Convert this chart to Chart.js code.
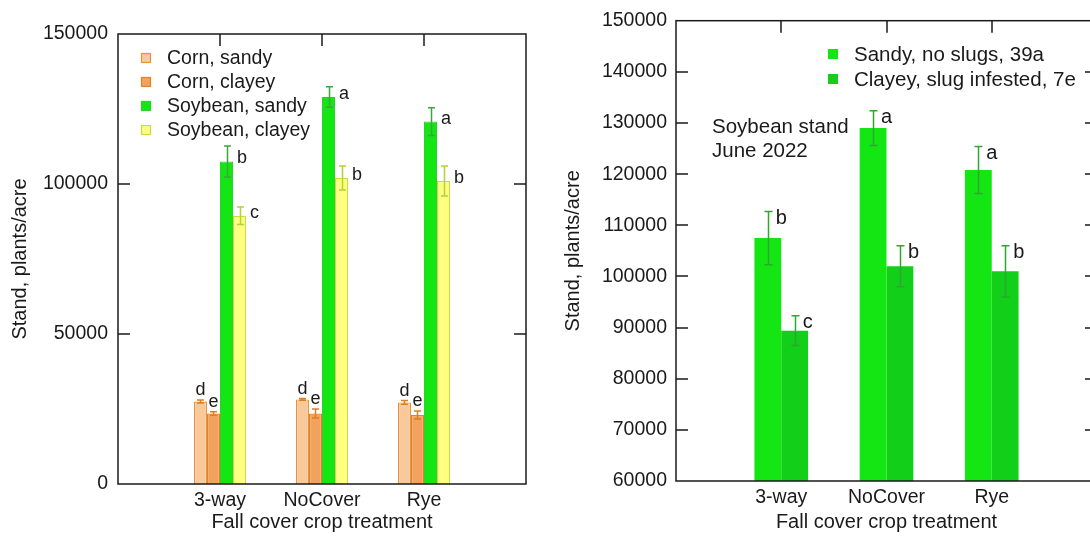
<!DOCTYPE html>
<html>
<head>
<meta charset="utf-8">
<title>Stand by fall cover crop treatment</title>
<script src="https://cdn.jsdelivr.net/npm/chart.js@4.4.1/dist/chart.umd.min.js"></script>
<style>
  html, body { margin: 0; padding: 0; background: #fff; overflow: hidden; }
  #wrap { position: relative; width: 1090px; height: 538px; overflow: hidden; }
  #leftChart { position: absolute; left: 0; top: 0; }
  #rightChart { position: absolute; left: 545px; top: 0; }
</style>
</head>
<body>
<div id="wrap">
  <canvas id="leftChart" width="545" height="538"></canvas>
  <canvas id="rightChart" width="560" height="538"></canvas>
</div>
<script>
// ===== DATA =====
const categories = ['3-way', 'NoCover', 'Rye'];

const cornSandy = [27500, 28200, 27200];
const cornSandyErr = [500, 300, 600];
const cornSandyLetters = ['d', 'd', 'd'];

const cornClayey = [23500, 23500, 23000];
const cornClayeyErr = [600, 1500, 1300];
const cornClayeyLetters = ['e', 'e', 'e'];

const soySandy = [107500, 129000, 120800];
const soySandyErr = [5200, 3400, 4600];
const soySandyLetters = ['b', 'a', 'a'];

const soyClayey = [89400, 102000, 101000];
const soyClayeyErr = [2900, 4000, 5000];
const soyClayeyLetters = ['c', 'b', 'b'];

// axis ranges
const leftRange = [0, 150000];
const leftStep = 50000;
const rightRange = [60000, 150000];
const rightStep = 10000;

const FONT = '"Liberation Sans", Arial, Helvetica, sans-serif';
const INK = '#1a1a1a';

// groups sit at positions 1,2,3 of a 0..4 category axis
function padLabels(list) { return [''].concat(list, ['']); }
function padData(list) { return [null].concat(list, [null]); }

// ===== PLUGINS =====
const frameTicks = {
    id: 'frameTicks',
    afterDraw(chart) {
        const { ctx, chartArea: a, scales } = chart;
        const tickLen = 12;
        ctx.save();
        ctx.strokeStyle = INK;
        ctx.lineWidth = 1.5;
        ctx.strokeRect(a.left, a.top, a.right - a.left, a.bottom - a.top);
        ctx.beginPath();
        scales.y.ticks.forEach(t => {
            if (t.value === scales.y.min || t.value === scales.y.max) return;
            const y = Math.round(scales.y.getPixelForValue(t.value));
            ctx.moveTo(a.left, y); ctx.lineTo(a.left + tickLen, y);
            ctx.moveTo(a.right, y); ctx.lineTo(a.right - tickLen, y);
        });
        chart.data.labels.forEach((lab, i) => {
            if (!lab) return;
            const x = Math.round(scales.x.getPixelForValue(i));
            ctx.moveTo(x, a.top); ctx.lineTo(x, a.top + tickLen);
        });
        ctx.stroke();
        ctx.restore();
    }
};

const errorBars = {
    id: 'errorBars',
    afterDatasetsDraw(chart, args, opts) {
        const { ctx, scales: { y } } = chart;
        ctx.save();
        chart.data.datasets.forEach((ds, di) => {
            const meta = chart.getDatasetMeta(di);
            meta.data.forEach((bar, i) => {
                const v = ds.data[i];
                if (v == null) return;
                const e = ds.errors[i];
                const x = Math.round(bar.x) + 0.5;
                const yTop = y.getPixelForValue(v + e);
                const yBot = y.getPixelForValue(v - e);
                ctx.strokeStyle = ds.errColor;
                ctx.lineWidth = 1.5;
                ctx.beginPath();
                ctx.moveTo(x, yTop); ctx.lineTo(x, yBot);
                ctx.moveTo(x - opts.cap, yTop); ctx.lineTo(x + opts.cap, yTop);
                ctx.moveTo(x - opts.cap, yBot); ctx.lineTo(x + opts.cap, yBot);
                ctx.stroke();

                // significance letter
                const letter = ds.letters[i];
                ctx.fillStyle = INK;
                ctx.font = opts.letterSize + 'px ' + FONT;
                if (ds.letterMode === 'above') {
                    ctx.textAlign = 'center';
                    ctx.textBaseline = 'alphabetic';
                    ctx.fillText(letter, bar.x, yTop - 5);
                } else if (ds.letterMode === 'right') {
                    ctx.textAlign = 'left';
                    ctx.textBaseline = 'middle';
                    ctx.fillText(letter, bar.x + bar.width / 2 + 4, bar.y - 3);
                } else {
                    ctx.textAlign = 'left';
                    ctx.textBaseline = 'middle';
                    ctx.fillText(letter, bar.x + 8, yTop + 7);
                }
            });
        });
        ctx.restore();
    }
};

const boxLegend = {
    id: 'boxLegend',
    afterDraw(chart, args, opts) {
        const { ctx } = chart;
        ctx.save();
        ctx.font = opts.size + 'px ' + FONT;
        ctx.textAlign = 'left';
        ctx.textBaseline = 'middle';
        chart.data.datasets.forEach((ds, i) => {
            const cy = opts.y + i * opts.step;
            ctx.fillStyle = ds.backgroundColor;
            ctx.fillRect(opts.x, cy - opts.box / 2, opts.box, opts.box);
            if (ds.borderWidth) {
                ctx.strokeStyle = ds.borderColor;
                ctx.lineWidth = 1.2;
                ctx.strokeRect(opts.x + 0.5, cy - opts.box / 2 + 0.5, opts.box - 1, opts.box - 1);
            }
            ctx.fillStyle = INK;
            ctx.fillText(ds.label, opts.textX, cy + 1);
        });
        (opts.note || []).forEach((line, i) => {
            ctx.fillText(line, opts.noteX, opts.noteY + i * opts.noteStep);
        });
        ctx.restore();
    }
};

function axisFont(size) {
    return { family: FONT, size: size };
}

function baseOptions(range, step, pad, yWidth, xHeight, yTitlePad) {
    return {
        responsive: false,
        animation: false,
        layout: { padding: pad },
        datasets: { bar: { categoryPercentage: 0.51, barPercentage: 1 } },
        plugins: {
            legend: { display: false },
            tooltip: { enabled: false }
        },
        scales: {
            x: {
                offset: false,
                grid: { display: false, drawTicks: false },
                border: { display: false },
                ticks: { autoSkip: false, maxRotation: 0, padding: 5, color: INK, font: axisFont(19.5) },
                title: { display: true, text: 'Fall cover crop treatment', color: INK, font: axisFont(20), padding: { top: 0, bottom: 4 } },
                afterFit(s) { s.height = xHeight; }
            },
            y: {
                min: range[0],
                max: range[1],
                grid: { display: false, drawTicks: false },
                border: { display: false },
                ticks: { stepSize: step, padding: 10, color: INK, font: axisFont(19.5), callback: v => String(v) },
                title: { display: true, text: 'Stand, plants/acre', color: INK, font: axisFont(20), padding: { top: yTitlePad, bottom: 0 } },
                afterFit(s) { s.width = yWidth; }
            }
        }
    };
}

// ===== LEFT CHART =====
const leftOptions = baseOptions(leftRange, leftStep, { left: 0, right: 19, top: 34, bottom: 0 }, 118, 54, 8);
leftOptions.plugins.errorBars = { cap: 3.5, letterSize: 18 };
leftOptions.plugins.boxLegend = { x: 141, y: 58, step: 24, box: 10, textX: 167, size: 19.5 };

new Chart(document.getElementById('leftChart'), {
    type: 'bar',
    data: {
        labels: padLabels(categories),
        datasets: [
            { label: 'Corn, sandy', data: padData(cornSandy), errors: padData(cornSandyErr), letters: padData(cornSandyLetters),
              letterMode: 'above', backgroundColor: '#f9c99b', borderColor: '#e8923a', borderWidth: 1.2, errColor: '#e07e22' },
            { label: 'Corn, clayey', data: padData(cornClayey), errors: padData(cornClayeyErr), letters: padData(cornClayeyLetters),
              letterMode: 'above', backgroundColor: '#f2a25e', borderColor: '#e0842a', borderWidth: 1.2, errColor: '#e07e22' },
            { label: 'Soybean, sandy', data: padData(soySandy), errors: padData(soySandyErr), letters: padData(soySandyLetters),
              letterMode: 'right', backgroundColor: '#14e614', borderColor: '#2fcf2f', borderWidth: 1, errColor: '#3aa83a' },
            { label: 'Soybean, clayey', data: padData(soyClayey), errors: padData(soyClayeyErr), letters: padData(soyClayeyLetters),
              letterMode: 'right', backgroundColor: '#ffff80', borderColor: '#c4e03c', borderWidth: 1.2, errColor: '#b2d23a' }
        ]
    },
    options: leftOptions,
    plugins: [errorBars, frameTicks, boxLegend]
});

// ===== RIGHT CHART =====
const rightOptions = baseOptions(rightRange, rightStep, { left: 0, right: 8, top: 17, bottom: 0 }, 131, 57, 16);
rightOptions.scales.y.ticks.padding = 9;
rightOptions.plugins.errorBars = { cap: 4, letterSize: 20 };
rightOptions.plugins.boxLegend = {
    x: 283, y: 54, step: 25, box: 10, textX: 309, size: 20.5,
    note: ['Soybean stand', 'June 2022'], noteX: 167, noteY: 127, noteStep: 24
};

new Chart(document.getElementById('rightChart'), {
    type: 'bar',
    data: {
        labels: padLabels(categories),
        datasets: [
            { label: 'Sandy, no slugs, 39a', data: padData(soySandy), errors: padData(soySandyErr), letters: padData(soySandyLetters),
              letterMode: 'cap', backgroundColor: '#14e614', errColor: '#2ea82e' },
            { label: 'Clayey, slug infested, 7e', data: padData(soyClayey), errors: padData(soyClayeyErr), letters: padData(soyClayeyLetters),
              letterMode: 'cap', backgroundColor: '#12cf1a', errColor: '#2ea82e' }
        ]
    },
    options: rightOptions,
    plugins: [errorBars, frameTicks, boxLegend]
});
</script>
</body>
</html>
